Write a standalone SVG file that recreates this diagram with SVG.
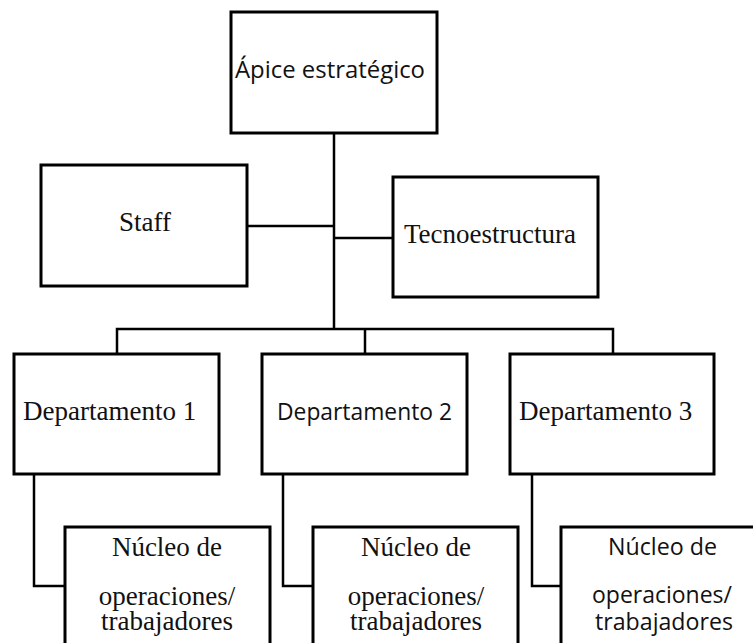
<svg xmlns="http://www.w3.org/2000/svg" width="753" height="643" viewBox="0 0 753 643">
<style>
.box{fill:#fff;stroke:#000;stroke-width:3}
.ln{fill:none;stroke:#000;stroke-width:2.5}
.serif{font-family:"Liberation Serif","Times New Roman",serif;font-size:27px;fill:#111}
.sans{font-family:"Open Sans","Noto Sans",sans-serif;font-size:24px;fill:#111}
</style>
<rect width="753" height="643" fill="#fff"/>
<g id="connectors">
<path class="ln" d="M334 133 V329"/>
<path class="ln" d="M247 226 H334"/>
<path class="ln" d="M334 238 H393"/>
<path class="ln" d="M117 354 V329 H613 V354"/>
<path class="ln" d="M365 329 V354"/>
<path class="ln" d="M34 474 V586 H65"/>
<path class="ln" d="M283 474 V586 H313"/>
<path class="ln" d="M532 474 V586 H561"/>
</g>
<g id="apice">
<rect class="box" x="231" y="12" width="206" height="121"/>
<text class="sans" x="235" y="78" textLength="190" lengthAdjust="spacingAndGlyphs">Ápice estratégico</text>
</g>
<g id="staff">
<rect class="box" x="41" y="165" width="206" height="121"/>
<text class="serif" x="145" y="231" text-anchor="middle">Staff</text>
</g>
<g id="tecnoestructura">
<rect class="box" x="393" y="177" width="205" height="120"/>
<text class="serif" x="404" y="243">Tecnoestructura</text>
</g>
<g id="dep1">
<rect class="box" x="14" y="354" width="205" height="120"/>
<text class="serif" x="23" y="420">Departamento 1</text>
</g>
<g id="dep2">
<rect class="box" x="262" y="354" width="205" height="120"/>
<text class="sans" x="277" y="420" textLength="175" lengthAdjust="spacingAndGlyphs">Departamento 2</text>
</g>
<g id="dep3">
<rect class="box" x="510" y="354" width="204" height="120"/>
<text class="serif" x="519" y="420">Departamento 3</text>
</g>
<g id="nucleo1">
<rect class="box" x="65" y="527" width="205" height="130"/>
<text class="serif" text-anchor="middle"><tspan x="167" y="556">Núcleo de</tspan><tspan x="167" y="605">operaciones/</tspan><tspan x="167" y="630">trabajadores</tspan></text>
</g>
<g id="nucleo2">
<rect class="box" x="313" y="527" width="205" height="130"/>
<text class="serif" text-anchor="middle"><tspan x="416" y="556">Núcleo de</tspan><tspan x="416" y="605">operaciones/</tspan><tspan x="416" y="630">trabajadores</tspan></text>
</g>
<g id="nucleo3">
<rect class="box" x="561" y="527" width="205" height="130"/>
<text class="sans"><tspan x="608" y="555" textLength="109" lengthAdjust="spacingAndGlyphs">Núcleo de</tspan></text>
<text class="sans"><tspan x="592" y="603" textLength="140" lengthAdjust="spacingAndGlyphs">operaciones/</tspan></text>
<text class="sans"><tspan x="595" y="630" textLength="138" lengthAdjust="spacingAndGlyphs">trabajadores</tspan></text>
</g>
</svg>
